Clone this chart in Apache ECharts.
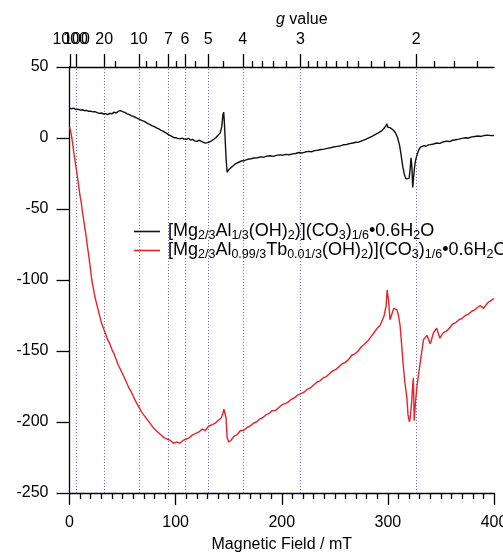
<!DOCTYPE html>
<html>
<head>
<meta charset="utf-8">
<script src="https://cdn.jsdelivr.net/npm/echarts@6/dist/echarts.min.js"></script>
<style>
  html, body { margin: 0; padding: 0; background: #fff; }
  #chart { width: 503px; height: 553px; }
</style>
</head>
<body>
<div id="chart"></div>
<script>
// EPR spectra of Mg-Al layered double hydroxides (X-band, room temperature)

// Magnetic field (mT) and signal for the undoped sample
const fieldA = [0,2,4,6,8,10,12,14,16,18,20,22,24,26,28,30,32,34,36,38,40,42,44,46,48,50,52,54,56,58,60,62,64,66,68,70,72,74,76,78,80,82,84,86,88,90,92,94,96,98,100,102,104,106,108,110,112,114,116,118,120,122,124,126,128,130,132,134,136,138,140,142,143.5,144.5,145.3,146,146.8,147.6,148.5,149.3,150.5,152,154,156,158,160,162,165,168,171,174,177,180,183,186,189,192,195,198,201,204,207,210,213,216,219,222,225,228,231,234,237,240,243,246,249,252,255,258,261,264,267,270,273,276,279,282,285,288,291,294,296,298,299,300,301,302,303.5,305,307,309,311,312.5,314,315.5,317,318.5,320,321,321.8,322.6,323.4,324.2,325,326,327.5,329,330.5,332,334,336,338,340,343,346,349,352,355,358,361,364,367,370,373,376,379,382,385,388,391,394,397,400];
const signalA = [21,20.5,21,20,20.3,19.6,19.9,19.2,19.5,18.8,18.9,18.4,18.6,17.9,17.3,17.6,16.9,17.2,16.5,17.4,17.0,18.2,17.6,18.9,19.3,18.6,18.0,17.1,16.6,15.8,15.2,14.6,13.9,13.1,12.4,11.9,11.0,10.1,9.4,8.6,8.0,7.1,6.4,5.6,4.9,4.0,3.1,2.0,1.3,0.4,0.2,-0.3,-0.6,-0.1,-0.7,-0.9,-0.2,-1.4,-1.0,-2.0,-2.4,-1.6,-2.2,-3.0,-3.6,-3.3,-2.8,-1.9,-0.9,0.4,2.0,3.6,8,16,18.2,10,-3,-15,-24,-24.6,-22,-20.6,-19.7,-18.4,-17.6,-16.9,-16.2,-15.8,-15.0,-14.6,-14.1,-13.9,-13.3,-13.5,-12.8,-12.5,-12.9,-12.2,-11.9,-12.1,-11.5,-11.8,-11.2,-10.9,-10.2,-10.6,-9.9,-9.4,-9.7,-8.9,-8.6,-8.1,-7.8,-7.3,-6.9,-6.3,-5.9,-5.6,-4.8,-4.6,-4.0,-3.5,-3.0,-2.8,-1.8,-0.9,0.1,1.2,2.4,3.6,5.0,6.5,8.4,10.0,7.6,6.2,7.3,6.9,5.6,3.9,0.5,-5,-12,-20,-25.5,-28.8,-29.4,-28.4,-22,-14,-20,-34.8,-28,-21.5,-16,-11.8,-8.6,-6.6,-6.0,-5.4,-5.8,-4.9,-4.7,-4.2,-3.5,-3.8,-2.8,-2.2,-2.5,-1.6,-1.2,-0.8,-0.3,0.2,0.0,0.8,1.1,1.4,1.1,1.8,2.0,1.7,1.8];

// Magnetic field (mT) and signal for the Tb-doped sample
const fieldB = [0,1,2,3,4,5,6,7,8,9,10,11,12,13,14,15,16,17,18,19,20,21,22,23,24,25,26,27,28,29,30,32,34,36,38,40,42,44,46,48,50,53,56,59,62,65,68,71,74,77,80,83,86,89,92,95,98,101,104,107,110,113,116,119,122,125,128,131,134,137,140,143,144.5,145.5,146.5,147.5,148.5,150,152,155,158,161,164,167,170,173,176,179,182,185,188,191,194,197,200,203,206,209,212,215,218,221,224,227,230,233,236,239,242,245,248,251,254,257,260,263,266,269,272,275,278,281,284,287,290,292.5,295,296.5,297.5,298.4,299.3,300.6,302,303.8,305.5,307,308.5,310,311.5,313,314.5,316,317.9,319,320.4,321.5,322.4,323.2,324,324.8,326,327.4,329,330.5,332,333.6,335,336.8,338.5,340,341.5,343,344.6,346,347.7,349,350.5,352.4,355,358,361,364,367,370,373,376,379,382,385,387,388.5,390.2,392,394,396,398,400];
const signalB = [7.7,5,1,-4,-10,-15,-20,-25,-30,-36,-41,-45,-51,-56,-61,-66,-71,-77,-82,-88,-94,-100,-104,-108,-112,-115,-118,-121,-124,-127,-130,-134,-138,-142,-145,-149,-152,-156,-160,-163,-166,-171,-176,-180,-185,-189,-193,-196,-199,-202,-205,-207,-209,-211,-212,-213,-215,-214,-215,-213,-212,-211,-209,-208,-207,-205,-206,-203,-202,-201,-199,-197,-194,-191,-190,-197,-211,-214,-213,-210,-209,-206,-206,-204,-203,-201,-200,-198,-197,-195,-194,-192,-192,-190,-188,-187,-186,-184,-183,-181,-180,-179,-177,-176,-174,-172,-171,-169,-168,-166,-164,-163,-161,-159,-158,-156,-153,-152,-150,-147,-145,-143,-140,-137,-134,-132,-128,-125,-121,-118,-107,-114,-128,-124,-120,-119,-121,-125,-132,-146,-160,-172,-183,-195,-200,-194,-186,-176,-169,-199,-186,-175,-166,-158,-150,-142,-141,-139,-140,-145,-141,-137,-136,-134,-138,-141,-139,-137,-136,-134,-131,-130,-128,-127,-125,-124,-122,-121,-119,-118,-117,-120,-119,-116,-115,-114,-113,-114];

// g-value scale along the top axis (X-band, hv/muB in mT)
const HNU_OVER_MUB = 653.2;
const gMajor = [1000, 20, 10, 7, 6, 5, 4, 3, 2];
const gCrowded = [100];
const gMinor = [15, 9, 8, 6.5, 5.5, 4.5, 3.8, 3.6, 3.4, 3.2, 2.9, 2.8, 2.7, 2.6, 2.5, 2.4, 2.3, 2.2, 2.1, 1.9, 1.8, 1.7];
const gGuides = [100, 20, 10, 7, 6, 5, 4, 3, 2];

const seriesNames = [
  '[Mg2/3Al1/3(OH)2)](CO3)1/6•0.6H2O',
  '[Mg2/3Al0.99/3Tb0.01/3(OH)2)](CO3)1/6•0.6H2O'
];
const seriesLabels = [
  '[Mg{s|2/3}Al{s|1/3}(OH){s|2})](CO{s|3}){s|1/6}•0.6H{s|2}O',
  '[Mg{s|2/3}Al{s|0.99/3}Tb{s|0.01/3}(OH){s|2})](CO{s|3}){s|1/6}•0.6H{s|2}O'
];

const toField = g => HNU_OVER_MUB / g;
const gLabel = v => String(Math.round(HNU_OVER_MUB / v));
const pairs = (xs, ys) => xs.map((x, i) => [x, ys[i]]);

const FONT = 'Liberation Sans';
const ink = '#000';
const tickLine = { color: ink, width: 1.3 };
const labelFont = { fontFamily: FONT, fontSize: 16, color: ink };

const chart = echarts.init(document.getElementById('chart'), null, { renderer: 'canvas' });

chart.setOption({
  animation: false,
  backgroundColor: '#fff',
  textStyle: { fontFamily: FONT },
  grid: { left: 69.5, right: 9, top: 67, bottom: 60, containLabel: false, outerBoundsMode: 'none' },
  legend: {
    orient: 'vertical',
    left: 129,
    top: 216,
    itemGap: -2,
    itemWidth: 26,
    itemHeight: 1.6,
    icon: 'rect',
    selectedMode: false,
    data: seriesNames,
    formatter: name => seriesLabels[seriesNames.indexOf(name)],
    textStyle: {
      fontFamily: FONT, fontSize: 18, color: ink, lineHeight: 18,
      padding: [0, 0, 0, 3],
      rich: { s: { fontFamily: FONT, fontSize: 12.5, color: ink, lineHeight: 12, padding: [8, 0, 0, 0] } }
    }
  },
  xAxis: [
    {
      type: 'value', position: 'bottom', min: 0, max: 400, interval: 100,
      name: 'Magnetic Field / mT', nameLocation: 'middle', nameGap: 44,
      nameTextStyle: labelFont,
      axisLine: { show: true, onZero: false, lineStyle: tickLine },
      axisTick: { show: true, inside: false, length: 12, lineStyle: tickLine },
      minorTick: { show: true, splitNumber: 10, length: 6, lineStyle: tickLine },
      axisLabel: Object.assign({ margin: 22, showMinLabel: true, showMaxLabel: true, hideOverlap: false }, labelFont),
      splitLine: { show: false }, minorSplitLine: { show: false }
    },
    {
      type: 'value', position: 'top', min: 0, max: 400,
      name: '{i|g} value', nameLocation: 'middle', nameGap: 39,
      nameTextStyle: Object.assign({
        padding: [0, 0, 0, 40],
        rich: { i: { fontFamily: FONT, fontSize: 16, fontStyle: 'italic', color: ink } }
      }, labelFont),
      axisLine: { show: true, onZero: false, lineStyle: tickLine },
      axisTick: { show: true, inside: false, length: 13, customValues: gMajor.map(toField), lineStyle: tickLine },
      axisLabel: Object.assign({
        show: true, margin: 19, showMinLabel: true, showMaxLabel: true, hideOverlap: false,
        customValues: gMajor.map(toField), formatter: gLabel
      }, labelFont),
      splitLine: { show: false }
    },
    {
      type: 'value', position: 'top', min: 0, max: 400,
      axisLine: { show: false, onZero: false },
      axisTick: { show: true, inside: false, length: 13, customValues: gCrowded.map(toField), lineStyle: tickLine },
      axisLabel: Object.assign({
        show: true, margin: 19, showMinLabel: true, showMaxLabel: true, hideOverlap: false,
        customValues: gCrowded.map(toField), formatter: gLabel
      }, labelFont),
      splitLine: { show: false }
    },
    {
      type: 'value', position: 'top', min: 0, max: 400,
      axisLine: { show: false, onZero: false },
      axisTick: { show: true, inside: false, length: 6, customValues: gMinor.map(toField), lineStyle: tickLine },
      axisLabel: { show: false },
      splitLine: { show: false }
    }
  ],
  yAxis: {
    type: 'value', min: -250, max: 50, interval: 50,
    axisLine: { show: true, onZero: false, lineStyle: tickLine },
    axisTick: { show: true, inside: false, length: 13, lineStyle: tickLine },
    axisLabel: Object.assign({ margin: 21, showMinLabel: true, showMaxLabel: true }, labelFont),
    splitLine: { show: false }
  },
  series: [
    {
      name: seriesNames[0], type: 'line', xAxisIndex: 0, showSymbol: false, symbol: 'none',
      data: pairs(fieldA, signalA),
      lineStyle: { color: '#111', width: 1.4 }, itemStyle: { color: '#111' },
      z: 3,
      markLine: {
        silent: true, symbol: 'none', animation: false,
        label: { show: false },
        lineStyle: { color: '#6b6be0', type: [1, 2], width: 1 },
        data: gGuides.map(g => ({ xAxis: toField(g) })),
        z: 1
      }
    },
    {
      name: seriesNames[1], type: 'line', xAxisIndex: 0, showSymbol: false, symbol: 'none',
      data: pairs(fieldB, signalB),
      lineStyle: { color: '#ea2128', width: 1.4 }, itemStyle: { color: '#ea2128' },
      z: 4
    }
  ]
});
</script>
</body>
</html>
